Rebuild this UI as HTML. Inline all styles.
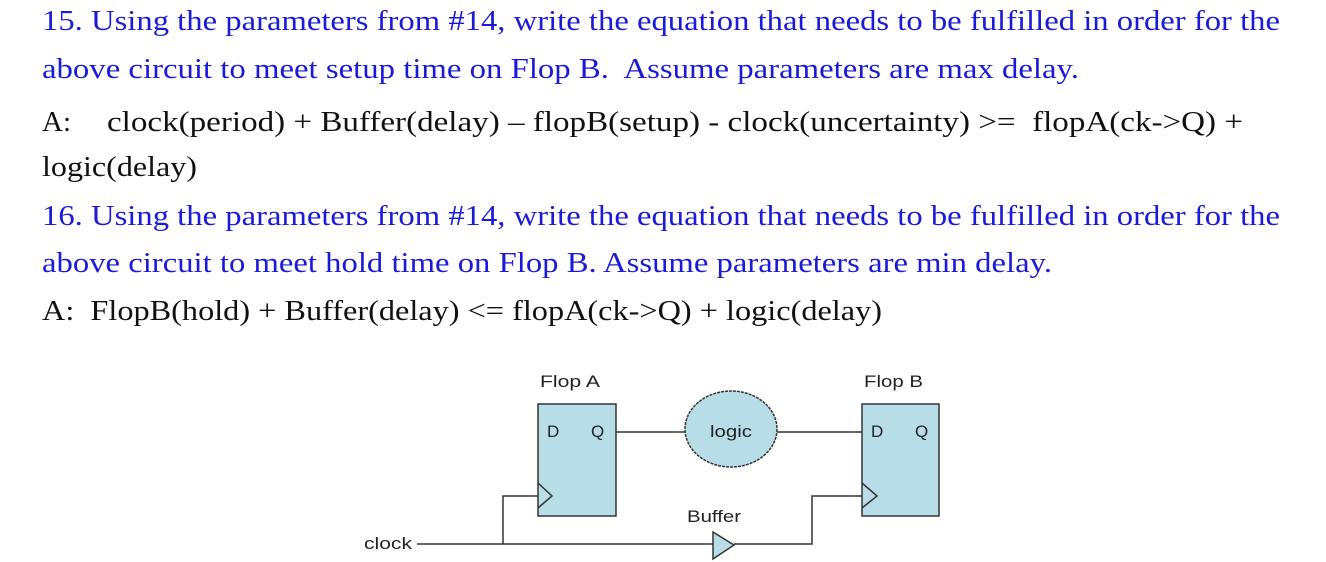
<!DOCTYPE html>
<html><head><meta charset="utf-8"><style>
html,body{margin:0;padding:0;background:#fff;}
svg{display:block;}
text{white-space:pre;}
.q{fill:#1a1ad8;font-family:"Liberation Serif",serif;font-size:29px;}
.a{fill:#111;font-family:"Liberation Serif",serif;font-size:29px;}
.d{fill:#222;font-family:"Liberation Sans",sans-serif;font-size:17px;}
</style></head><body>
<svg width="1326" height="562" viewBox="0 0 1326 562" xmlns="http://www.w3.org/2000/svg" xml:space="preserve">
<text class="q" x="42" y="30" textLength="1238" lengthAdjust="spacingAndGlyphs">15. Using the parameters from #14, write the equation that needs to be fulfilled in order for the</text>
<text class="q" x="42" y="78" textLength="1037" lengthAdjust="spacingAndGlyphs">above circuit to meet setup time on Flop B.  Assume parameters are max delay.</text>
<text class="a" x="42" y="131">A:</text>
<text class="a" x="107" y="131" textLength="1136" lengthAdjust="spacingAndGlyphs">clock(period) + Buffer(delay) – flopB(setup) - clock(uncertainty) &gt;=  flopA(ck-&gt;Q) +</text>
<text class="a" x="42" y="176" textLength="155" lengthAdjust="spacingAndGlyphs">logic(delay)</text>
<text class="q" x="42" y="225" textLength="1238" lengthAdjust="spacingAndGlyphs">16. Using the parameters from #14, write the equation that needs to be fulfilled in order for the</text>
<text class="q" x="42" y="272" textLength="1010" lengthAdjust="spacingAndGlyphs">above circuit to meet hold time on Flop B. Assume parameters are min delay.</text>
<text class="a" x="42" y="320" textLength="840" lengthAdjust="spacingAndGlyphs">A:  FlopB(hold) + Buffer(delay) &lt;= flopA(ck-&gt;Q) + logic(delay)</text>

<g stroke="#333" stroke-width="1.5" fill="none">
<rect x="538" y="404" width="78" height="112" fill="#b8dde6"/>
<rect x="862" y="404" width="77" height="112" fill="#b8dde6"/>
<ellipse cx="731" cy="429" rx="46" ry="38" fill="#b8dde6" stroke-dasharray="3,1"/>
<path d="M538 483 L552 496 L538 508"/>
<path d="M862 483 L877 496 L862 508"/>
<line x1="616" y1="432" x2="685" y2="432"/>
<line x1="777" y1="432" x2="862" y2="432"/>
<path d="M417 544 L713 544"/>
<path d="M503 544 L503 496 L538 496"/>
<path d="M734 544 L812 544 L812 496 L862 496"/>
<path d="M713 532 L734 545 L713 559 Z" fill="#b8dde6"/>
</g>
<text class="d" x="540" y="387" textLength="60" lengthAdjust="spacingAndGlyphs">Flop A</text>
<text class="d" x="864" y="387" textLength="59" lengthAdjust="spacingAndGlyphs">Flop B</text>
<text class="d" x="547" y="437">D</text>
<text class="d" x="591" y="437">Q</text>
<text class="d" x="871" y="437">D</text>
<text class="d" x="915" y="437">Q</text>
<text class="d" x="710" y="437" textLength="42" lengthAdjust="spacingAndGlyphs">logic</text>
<text class="d" x="687" y="522" textLength="54" lengthAdjust="spacingAndGlyphs">Buffer</text>
<text class="d" x="364" y="549" textLength="48" lengthAdjust="spacingAndGlyphs">clock</text>
</svg>
</body></html>
